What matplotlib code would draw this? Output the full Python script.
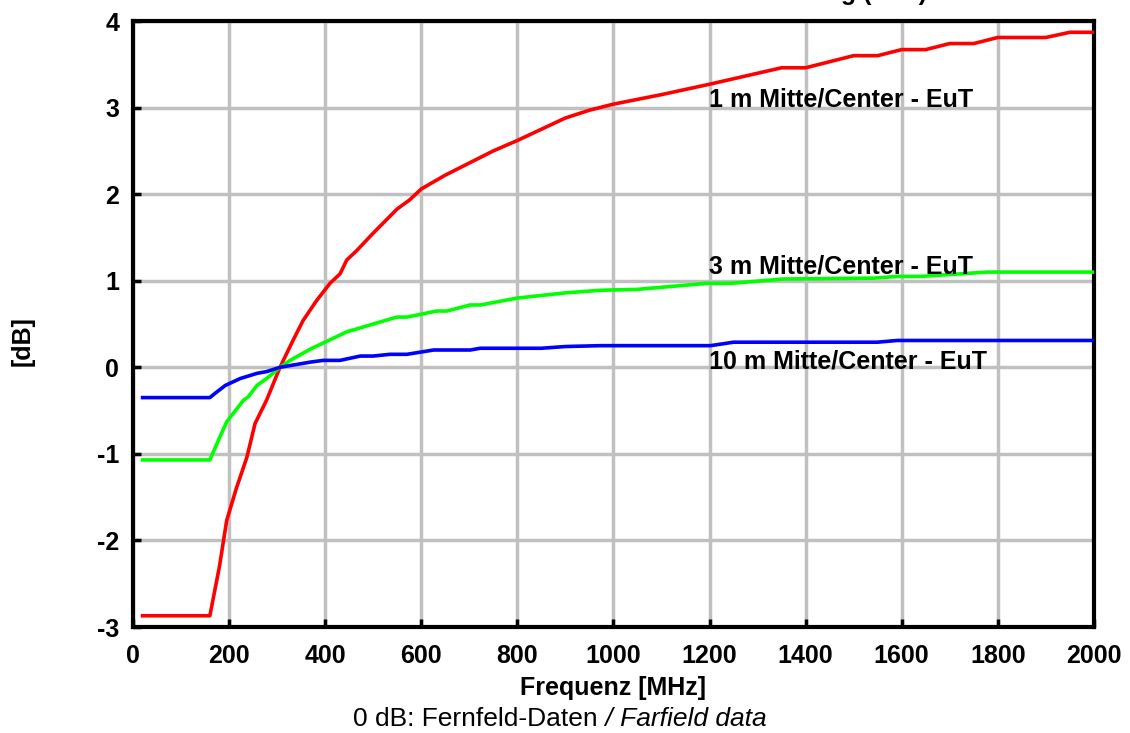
import matplotlib
matplotlib.use("Agg")
import matplotlib.pyplot as plt

plt.rcParams['font.family'] = ['Liberation Sans', 'DejaVu Sans']
plt.rcParams['axes.unicode_minus'] = False

# 1 m Mitte/Center - EuT
f_1m = [20, 160, 180, 195, 215, 237, 254, 278, 306, 333, 354, 382, 410, 431, 445, 466,
        500, 550, 575, 600, 650, 700, 750, 800, 900, 950, 1000, 1100, 1200, 1350, 1400,
        1500, 1550, 1600, 1650, 1700, 1750, 1800, 1900, 1950, 2000]
v_1m = [-2.87, -2.87, -2.3, -1.77, -1.4, -1.04, -0.65, -0.38, 0.0, 0.31, 0.54, 0.77, 0.97, 1.08, 1.24, 1.35,
        1.55, 1.83, 1.93, 2.06, 2.22, 2.36, 2.5, 2.62, 2.88, 2.97, 3.04, 3.15, 3.27, 3.46, 3.46,
        3.6, 3.6, 3.67, 3.67, 3.74, 3.74, 3.81, 3.81, 3.87, 3.87]

# 3 m Mitte/Center - EuT
f_3m = [20, 160, 178, 195, 216, 230, 240, 258, 278, 306, 327, 369, 445, 549, 570, 632, 653,
        702, 723, 800, 900, 973, 1049, 1195, 1244, 1354, 1542, 1591, 1640, 1778, 2000]
v_3m = [-1.07, -1.07, -0.84, -0.63, -0.48, -0.38, -0.34, -0.21, -0.13, 0.0, 0.08, 0.21, 0.41, 0.58, 0.58,
        0.65, 0.65, 0.72, 0.72, 0.8, 0.86, 0.89, 0.9, 0.97, 0.97, 1.02, 1.03, 1.05, 1.05, 1.1, 1.1]

# 10 m Mitte/Center - EuT
f_10m = [20, 160, 171, 192, 223, 258, 278, 306, 369, 396, 431, 473, 500, 535, 570, 626, 702,
         723, 850, 900, 973, 1202, 1250, 1549, 1591, 2000]
v_10m = [-0.35, -0.35, -0.3, -0.21, -0.13, -0.07, -0.05, 0.0, 0.06, 0.08, 0.08, 0.13, 0.13, 0.15,
         0.15, 0.2, 0.2, 0.22, 0.22, 0.24, 0.25, 0.25, 0.29, 0.29, 0.31, 0.31]

labels = ["1 m Mitte/Center - EuT", "3 m Mitte/Center - EuT", "10 m Mitte/Center - EuT"]
label_pos = [(1198, 3.01), (1198, 1.085), (1198, -0.01)]

x_ticks = [0, 200, 400, 600, 800, 1000, 1200, 1400, 1600, 1800, 2000]
y_ticks = [-3, -2, -1, 0, 1, 2, 3, 4]

FS = 18

fig = plt.figure(figsize=(11.3, 7.33), dpi=100)
ax = fig.add_axes([0.1177, 0.1446, 0.8503, 0.8267])

ax.plot(f_1m, v_1m, color='#ff0000', lw=2.6, zorder=3)
ax.plot(f_3m, v_3m, color='#00ff00', lw=2.6, zorder=3)
ax.plot(f_10m, v_10m, color='#0000ff', lw=2.6, zorder=3)

for lab, (x, y) in zip(labels, label_pos):
    ax.text(x, y, lab, fontsize=FS, fontweight='bold', ha='left', va='baseline', zorder=4)

ax.set_xlim(0, 2000)
ax.set_ylim(-3, 4)
ax.set_xticks(x_ticks)
ax.set_yticks(y_ticks)
ax.grid(True, color='#c0c0c0', lw=2.5, zorder=0)
ax.set_axisbelow(True)
for s in ax.spines.values():
    s.set_linewidth(3)
    s.set_color('black')
ax.tick_params(direction='in', length=6, width=2.5, labelsize=FS)
ax.tick_params(axis='x', pad=12)
ax.tick_params(axis='y', pad=10)
for t in ax.get_xticklabels() + ax.get_yticklabels():
    t.set_fontweight('bold')

ax.set_xlabel("Frequenz [MHz]", fontsize=FS, fontweight='bold')
ax.xaxis.set_label_coords(0.5, -0.1007)
ax.xaxis.label.set_verticalalignment('center')
ax.set_ylabel("[dB]", fontsize=FS, fontweight='bold')
ax.yaxis.set_label_coords(-0.102, 0.472)

fig.text(0.5292, 0.0095, "0 dB: Fernfeld-Daten", fontsize=19, ha='right', va='baseline')
fig.text(0.5292, 0.0095, " / Farfield data", fontsize=19, style='italic', ha='left', va='baseline')

fig.text(0.8204, 1.0, "Normierte Feldabweichung (EuT)", fontsize=FS, fontweight='bold',
         ha='right', va='baseline')

fig.savefig("out.png", dpi=100)
